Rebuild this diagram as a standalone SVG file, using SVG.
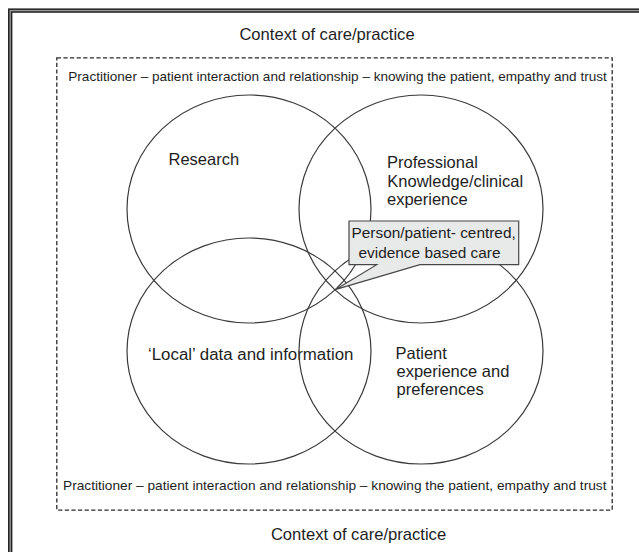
<svg xmlns="http://www.w3.org/2000/svg" width="639" height="552" viewBox="0 0 639 552">
<style>
  text { font-family: "Liberation Sans", Arial, sans-serif; fill: #1e1e1e; }
  .ctx { font-size: 16.6px; text-anchor: middle; }
  .rel { font-size: 13.6px; }
  .lbl { font-size: 16.5px; }
  .box { font-size: 15.4px; }
  .circle { fill: none; stroke: #3a3a3a; stroke-width: 1.2; }
</style>
<rect width="639" height="552" fill="#ffffff"/>
<g id="frame">
  <rect x="10.2" y="10.6" width="700" height="600" fill="none" stroke="#262626" stroke-width="4.4"/>
  <rect x="10.2" y="10.6" width="700" height="600" fill="none" stroke="#9a9a9a" stroke-width="1.3"/>
</g>
<g id="context-top"><text class="ctx" x="327" y="40">Context of care/practice</text></g>
<g id="context-bottom"><text class="ctx" x="358.5" y="540">Context of care/practice</text></g>
<g id="relationship">
  <rect x="56.8" y="57.8" width="555.4" height="452.4" fill="none" stroke="#2a2a2a" stroke-width="1.3" stroke-dasharray="4.2 2.4"/>
  <text class="rel" x="68.3" y="80.8" textLength="538.5" lengthAdjust="spacingAndGlyphs">Practitioner – patient interaction and relationship – knowing the patient, empathy and trust</text>
  <text class="rel" x="63" y="489.5" textLength="543.5" lengthAdjust="spacingAndGlyphs">Practitioner – patient interaction and  relationship – knowing the patient, empathy and trust</text>
</g>
<g id="research">
  <ellipse class="circle" cx="249" cy="209" rx="122" ry="114"/>
  <text class="lbl" x="168.5" y="165">Research</text>
</g>
<g id="professional">
  <ellipse class="circle" cx="421" cy="209" rx="122" ry="114"/>
  <text class="lbl" x="387" y="168.3">Professional</text>
  <text class="lbl" x="387.3" y="186.7">Knowledge/clinical</text>
  <text class="lbl" x="387" y="204.5">experience</text>
</g>
<g id="local">
  <ellipse class="circle" cx="249" cy="351" rx="122" ry="113"/>
  <text class="lbl" x="148" y="360" style="font-size:16.85px">‘Local’ data and information</text>
</g>
<g id="patient">
  <ellipse class="circle" cx="421" cy="351" rx="122" ry="113"/>
  <text class="lbl" x="395.5" y="359.3">Patient</text>
  <text class="lbl" x="396.5" y="377.3">experience and</text>
  <text class="lbl" x="396.5" y="395">preferences</text>
</g>
<g id="connectors"></g>
<g id="callout">
  <path d="M349,221 H518.7 V264.7 H420 L336,289.3 L376.7,264.7 H349 Z" fill="#e8e9e9" stroke="#474747" stroke-width="1.2" stroke-linejoin="miter"/>
  <text class="box" x="351.5" y="237.7">Person/patient- centred,</text>
  <text class="box" x="358.5" y="258.3">evidence based care</text>
</g>
</svg>
